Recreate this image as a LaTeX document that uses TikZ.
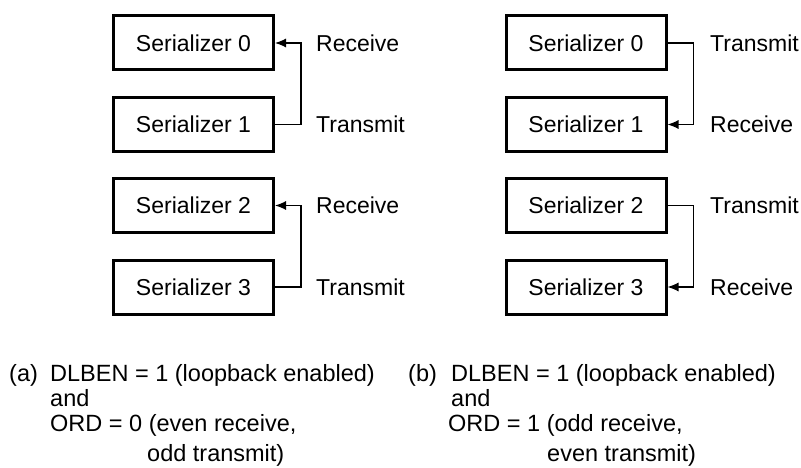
\documentclass[tikz,border=0pt]{standalone}
\usepackage{fontspec}
\setmainfont{Liberation Sans}
\usetikzlibrary{arrows.meta}

\begin{document}
\begin{tikzpicture}[x=1pt,y=-1pt,
    serbox/.style={draw,line width=3pt,minimum width=160pt,minimum height=54pt,
      inner sep=0pt,font=\fontsize{23}{27}\selectfont},
    link/.style={line width=1.1pt,-{Latex[length=11pt,width=9pt]}},
    tag/.style={anchor=west,inner sep=0pt,font=\fontsize{23}{27}\selectfont},
    captext/.style={anchor=base west,inner sep=0pt,font=\fontsize{23.5}{27}\selectfont}]
    \useasboundingbox (0,0) rectangle (801,468);
    % serializer boxes, left (a) and right (b)
    \foreach \i/\y in {0/43,1/124.5,2/205.5,3/287} {
      \node[serbox] (sa\i) at (193.5,\y) {Serializer \i};
      \node[serbox] (sb\i) at (586,\y) {Serializer \i};
    }
    % (a) even receive, odd transmit
    \draw[link] (sa1.east) -- ++(26,0) |- (sa0.east);
    \draw[link] (sa3.east) -- ++(26,0) |- (sa2.east);
    \node[tag] (ra0) at (316,43) {Receive};
    \node[tag] (ta1) at (316,124.5) {Transmit};
    \node[tag] (ra2) at (316,205.5) {Receive};
    \node[tag] (ta3) at (316,287) {Transmit};
    % (b) odd receive, even transmit
    \draw[link] (sb0.east) -- ++(26,0) |- (sb1.east);
    \draw[link] (sb2.east) -- ++(26,0) |- (sb3.east);
    \node[tag] (tb0) at (710,43) {Transmit};
    \node[tag] (rb1) at (710,124.5) {Receive};
    \node[tag] (tb2) at (710,205.5) {Transmit};
    \node[tag] (rb3) at (710,287) {Receive};
    % captions
    \node[captext] (capa) at (9,381) {(a)};
    \node[captext] (capa1) at (50,381) {DLBEN = 1 (loopback enabled)};
    \node[captext] (capa2) at (50,406) {and};
    \node[captext] (capa3) at (50,431) {ORD = 0 (even receive,};
    \node[captext] (capa4) at (147,461) {odd transmit)};
    \node[captext] (capb) at (408,381) {(b)};
    \node[captext] (capb1) at (451,381) {DLBEN = 1 (loopback enabled)};
    \node[captext] (capb2) at (451,406) {and};
    \node[captext] (capb3) at (448,431) {ORD = 1 (odd receive,};
    \node[captext] (capb4) at (547,461) {even transmit)};
\end{tikzpicture}
\end{document}
